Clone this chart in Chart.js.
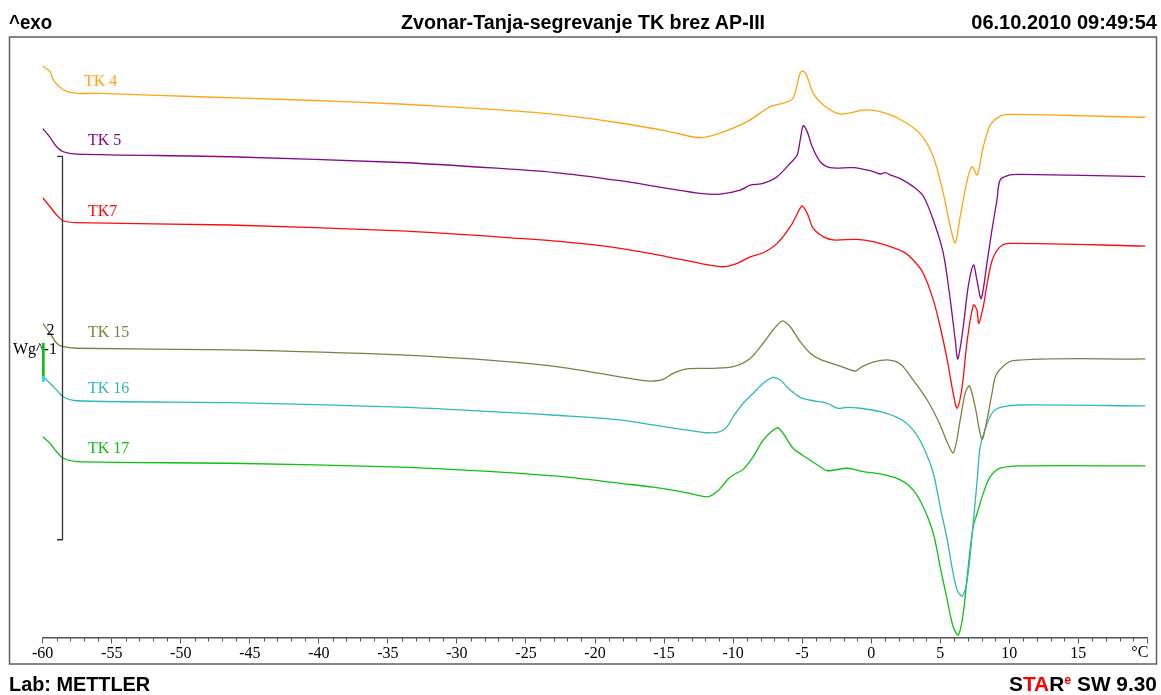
<!DOCTYPE html>
<html>
<head>
<meta charset="utf-8">
<script src="https://cdn.jsdelivr.net/npm/chart.js@4"></script>
<style>
html, body { margin: 0; padding: 0; background: #fff; overflow: hidden; }
#wrap { position: relative; width: 1161px; height: 695px; }
#chart { position: absolute; left: 0; top: 0; }
.hd { position: absolute; font: bold 20px "Liberation Sans", Arial, sans-serif; line-height: 20px; white-space: nowrap; color: #000; }
.red { color: #ff0000; }
sup.red { font-size: 12px; vertical-align: 7px; line-height: 0; }
</style>
</head>
<body>
<div id="wrap">
  <canvas id="chart" width="1161" height="695"></canvas>
  <div id="exo" class="hd" style="left:9px;top:12px;transform-origin:left">^exo</div>
  <div id="title" class="hd" style="left:401px;top:12px;transform-origin:left">Zvonar-Tanja-segrevanje TK brez AP-III</div>
  <div id="stamp" class="hd" style="right:4px;top:12px;transform-origin:right">06.10.2010 09:49:54</div>
  <div id="lab" class="hd" style="left:9px;top:674px;transform-origin:left">Lab: METTLER</div>
  <div id="star" class="hd" style="right:4px;top:674px;transform-origin:right">S<span class="red">TA</span>R<sup class="red">e</sup> SW 9.30</div>
</div>
<script>
// Temperatures (°C) and heat flow (W/g)
const tk4T = [-60.0,-59.47,-59.23,-58.75,-58.26,-57.54,-55.85,-48.60,-41.36,-34.12,-26.87,-22.53,-18.18,-14.77,-12.38,-10.93,-8.98,-7.31,-6.23,-5.65,-5.14,-4.92,-4.63,-4.20,-3.47,-2.24,-0.43,0.66,2.11,3.55,4.50,5.22,5.73,6.09,6.45,6.96,7.32,7.68,8.12,8.63,9.35,10.07,19.85];
const tk4W = [2.981,2.952,2.908,2.870,2.849,2.839,2.838,2.821,2.804,2.783,2.752,2.726,2.684,2.642,2.607,2.632,2.691,2.769,2.790,2.814,2.945,2.955,2.925,2.840,2.778,2.731,2.752,2.743,2.702,2.627,2.508,2.319,2.143,2.059,2.195,2.387,2.456,2.413,2.560,2.673,2.720,2.729,2.714];

const tk5T = [-60.0,-59.47,-58.99,-58.51,-57.54,-46.43,-34.12,-26.87,-22.53,-18.18,-14.77,-12.38,-10.93,-9.49,-8.76,-7.82,-6.81,-5.86,-5.36,-5.14,-4.92,-4.63,-4.27,-3.69,-2.97,-1.30,-0.07,0.66,1.02,1.38,2.11,3.05,3.77,4.50,5.22,5.73,6.09,6.28,6.67,7.03,7.41,7.66,7.97,8.39,8.75,9.11,9.35,10.07,10.80,19.85];
const tk5W = [2.656,2.609,2.560,2.534,2.522,2.508,2.478,2.447,2.423,2.383,2.343,2.317,2.313,2.334,2.360,2.369,2.404,2.474,2.517,2.595,2.670,2.639,2.560,2.482,2.451,2.451,2.435,2.418,2.425,2.413,2.394,2.352,2.303,2.178,2.006,1.761,1.552,1.453,1.621,1.830,1.943,1.865,1.769,1.954,2.126,2.282,2.387,2.413,2.416,2.404];

const tk7T = [-60.0,-59.47,-58.99,-58.51,-57.54,-46.43,-34.12,-26.87,-22.53,-18.18,-14.77,-12.38,-10.72,-9.70,-8.76,-7.82,-6.81,-5.86,-5.14,-4.99,-4.63,-4.20,-3.47,-2.75,-1.01,0.15,1.38,2.32,3.05,3.77,4.50,5.00,5.51,5.94,6.23,6.59,6.96,7.41,7.66,7.80,8.12,8.41,8.77,9.35,10.07,19.85];
const tk7W = [2.294,2.247,2.204,2.174,2.164,2.152,2.121,2.089,2.066,2.030,1.986,1.952,1.934,1.952,1.986,2.007,2.056,2.143,2.239,2.251,2.213,2.135,2.091,2.074,2.077,2.065,2.039,2.013,1.969,1.900,1.761,1.621,1.448,1.274,1.196,1.308,1.552,1.734,1.708,1.639,1.726,1.848,1.969,2.039,2.056,2.042];

const tk15T = [-60.0,-59.47,-58.99,-58.51,-57.54,-46.43,-34.12,-26.87,-22.53,-18.18,-16.73,-15.79,-15.06,-14.34,-13.33,-11.44,-9.99,-8.76,-7.82,-7.10,-6.44,-5.86,-5.14,-4.41,-3.69,-2.24,-1.16,-0.65,0.15,1.16,2.11,3.05,4.06,5.00,5.49,5.96,6.45,6.81,7.12,7.53,8.02,8.39,8.75,9.11,10.29,19.85];
const tk15W = [1.639,1.587,1.535,1.517,1.509,1.500,1.474,1.442,1.411,1.360,1.343,1.338,1.347,1.378,1.401,1.404,1.413,1.456,1.535,1.604,1.651,1.621,1.543,1.483,1.451,1.416,1.390,1.413,1.436,1.448,1.427,1.343,1.239,1.109,1.020,0.964,1.135,1.274,1.312,1.204,1.035,1.135,1.274,1.378,1.444,1.453];

const tk16T = [-60.0,-59.47,-58.99,-58.51,-57.54,-46.43,-34.12,-26.87,-22.53,-18.18,-15.79,-13.33,-11.88,-10.93,-10.43,-9.99,-9.27,-8.54,-7.82,-7.10,-6.59,-5.86,-5.14,-4.20,-3.18,-2.46,-1.74,-0.79,0.66,2.11,3.05,3.77,4.50,5.00,5.51,5.94,6.23,6.59,6.96,7.39,7.68,7.90,8.41,8.84,9.35,10.80,19.85];
const tk16W = [1.360,1.326,1.291,1.256,1.235,1.225,1.202,1.176,1.158,1.135,1.109,1.082,1.068,1.074,1.100,1.152,1.222,1.274,1.326,1.357,1.343,1.291,1.253,1.235,1.222,1.196,1.201,1.196,1.178,1.140,1.082,0.995,0.857,0.682,0.509,0.335,0.248,0.216,0.300,0.596,0.822,0.995,1.117,1.178,1.201,1.213,1.208];

const tk17T = [-60.0,-59.47,-58.99,-58.51,-57.54,-46.43,-34.12,-26.87,-22.53,-18.18,-15.79,-13.33,-11.88,-11.15,-10.43,-9.99,-9.27,-8.54,-7.82,-6.81,-6.37,-5.65,-4.63,-3.69,-3.18,-1.74,-0.58,0.66,2.11,3.05,3.77,4.50,5.00,5.51,5.94,6.31,6.67,7.03,7.39,7.68,8.12,8.63,9.35,10.80,19.85];
const tk17W = [1.047,1.013,0.969,0.935,0.917,0.909,0.889,0.863,0.840,0.804,0.784,0.755,0.734,0.761,0.822,0.848,0.877,0.943,1.030,1.094,1.065,0.987,0.935,0.891,0.870,0.883,0.865,0.853,0.822,0.769,0.682,0.544,0.369,0.196,0.056,0.013,0.126,0.369,0.578,0.648,0.752,0.839,0.883,0.895,0.895];

const curveNames = ['TK 4', 'TK 5', 'TK7', 'TK 15', 'TK 16', 'TK 17'];
const curveColors = ['#ffa514', '#850a85', '#ff0a0a', '#7f7f45', '#30b8b8', '#10c010'];

// Axis range and scale bar
const tempMin = -60, tempMax = 20, tempStep = 5;
const wgMin = 0, wgMax = 3.13;
const scaleBarBase = 0.51, scaleBarSize = 2;

// Curve label anchors in canvas pixels
const labelPos = [[84, 82], [88, 141], [88, 212], [88, 333], [88, 389], [88, 449]];

function zip(ts, ws) {
    return ts.map((t, i) => ({ x: t, y: ws[i] }));
}

const series = [
    zip(tk4T, tk4W), zip(tk5T, tk5W), zip(tk7T, tk7W),
    zip(tk15T, tk15W), zip(tk16T, tk16W), zip(tk17T, tk17W)
];

// Frame, minor ticks, scale bar and curve labels
const decorations = {
    id: 'decorations',
    beforeDraw(chart) {
        const ctx = chart.ctx;
        ctx.save();
        ctx.fillStyle = '#fff';
        ctx.fillRect(0, 0, chart.width, chart.height);
        ctx.restore();
    },
    afterDraw(chart) {
        const { ctx, scales: { x, y }, chartArea } = chart;
        ctx.save();

        // outer frame
        ctx.strokeStyle = '#5f5f5f';
        ctx.lineWidth = 1.5;
        ctx.strokeRect(9.5, 37, 1147, 627);

        // minor ticks every degree
        ctx.strokeStyle = '#555';
        ctx.lineWidth = 1;
        for (let t = tempMin; t <= tempMax; t++) {
            if (t % tempStep === 0) continue;
            const px = Math.round(x.getPixelForValue(t)) + 0.5;
            ctx.beginPath();
            ctx.moveTo(px, chartArea.bottom);
            ctx.lineTo(px, chartArea.bottom + 4);
            ctx.stroke();
        }

        // unit label at the end of the axis
        ctx.fillStyle = '#000';
        ctx.font = '16px "Liberation Serif", "Times New Roman", serif';
        ctx.textAlign = 'right';
        ctx.textBaseline = 'middle';
        ctx.fillText('°C', x.getPixelForValue(tempMax) + 1, 653);

        // scale bar (2 W/g)
        const barX = 62.5;
        const top = y.getPixelForValue(scaleBarBase + scaleBarSize);
        const bottom = y.getPixelForValue(scaleBarBase);
        ctx.strokeStyle = '#333';
        ctx.lineWidth = 1.3;
        ctx.beginPath();
        ctx.moveTo(57, top);
        ctx.lineTo(barX, top);
        ctx.lineTo(barX, bottom);
        ctx.lineTo(57, bottom);
        ctx.stroke();
        ctx.textAlign = 'center';
        ctx.fillText(String(scaleBarSize), 50.5, 331);
        ctx.textAlign = 'left';
        ctx.fillText('Wg^-1', 13, 350);

        // start markers
        ctx.fillStyle = '#10c010';
        ctx.fillRect(42, 343, 2.7, 35);
        ctx.fillStyle = '#30d8e0';
        ctx.fillRect(42, 376, 2.7, 6);

        // curve labels
        ctx.textAlign = 'left';
        curveNames.forEach((name, i) => {
            ctx.fillStyle = curveColors[i];
            ctx.fillText(name, labelPos[i][0], labelPos[i][1]);
        });
        ctx.restore();
    }
};

new Chart(document.getElementById('chart').getContext('2d'), {
    type: 'line',
    data: {
        datasets: series.map((pts, i) => ({
            label: curveNames[i],
            data: pts,
            borderColor: curveColors[i],
            borderWidth: 1.3,
            pointRadius: 0,
            fill: false,
            tension: 0.3
        }))
    },
    options: {
        responsive: false,
        animation: false,
        events: [],
        layout: { padding: { left: 42.7, right: 13.7, top: 37.5, bottom: 0 } },
        plugins: { legend: { display: false }, tooltip: { enabled: false } },
        scales: {
            x: {
                type: 'linear',
                min: tempMin,
                max: tempMax,
                afterFit: (scale) => { scale.height = 57.5; },
                ticks: {
                    stepSize: tempStep,
                    autoSkip: false,
                    maxRotation: 0,
                    padding: 1,
                    color: '#000',
                    font: { family: '"Liberation Serif", "Times New Roman", serif', size: 16 },
                    callback: (v) => (v === tempMax ? '' : String(v))
                },
                grid: { drawOnChartArea: false, tickLength: 6, color: '#555', tickWidth: 1 },
                border: { display: true, color: '#555', width: 1.5 }
            },
            y: { type: 'linear', display: false, min: wgMin, max: wgMax }
        }
    },
    plugins: [decorations]
});

// Condense the bold header and footer texts to their widths in the printout
function fitText(id, width) {
    const el = document.getElementById(id);
    el.style.transform = `scaleX(${width / el.offsetWidth})`;
}
fitText('exo', 43);
fitText('title', 364);
fitText('stamp', 186);
fitText('lab', 141);
fitText('star', 148);
</script>
</body>
</html>
